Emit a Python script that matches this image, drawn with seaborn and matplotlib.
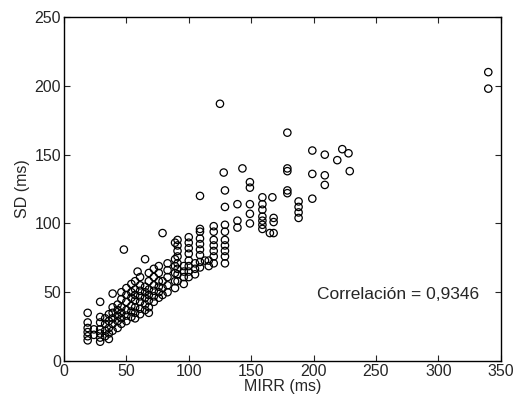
import matplotlib
matplotlib.use('Agg')
import matplotlib.pyplot as plt
import seaborn as sns
import pandas as pd
import numpy as np

sns.set_style("ticks")
plt.rcParams['font.family'] = ['Liberation Sans', 'DejaVu Sans']
plt.rcParams.update({'font.size': 11})

# MIRR (ms) columns and the SD (ms) values read at each one
mirr_cols = [19, 24, 29, 33, 36, 39, 43, 46, 48, 50, 54, 57, 59, 61, 65, 68, 72, 76, 79,
             83, 89, 91, 96, 100, 105, 109, 113, 116, 120, 125, 128, 129, 139, 143, 149,
             159, 165, 167, 168, 179, 188, 199, 209, 219, 223, 228, 229, 340]
sd_cols = [
    [15, 18, 21, 24, 28, 35],
    [19, 23],
    [14, 17, 20, 23, 28, 32, 43],
    [18, 22, 27, 31],
    [16, 20, 24, 29, 34],
    [22, 27, 31, 35, 39, 49],
    [24, 29, 33, 37, 41],
    [27, 31, 35, 39, 45, 50],
    [81],
    [29, 33, 37, 43, 48, 53],
    [32, 36, 40, 46, 50, 56],
    [31, 35, 39, 44, 48, 52, 58],
    [65],
    [34, 38, 43, 47, 51, 55, 61],
    [37, 41, 46, 50, 54, 74],
    [35, 39, 44, 48, 52, 58, 64],
    [43, 47, 51, 55, 61, 67],
    [46, 50, 54, 58, 64, 69],
    [48, 53, 58, 93],
    [50, 55, 61, 66, 71],
    [53, 58, 64, 69, 74, 86],
    [58, 63, 67, 71, 76, 80, 84, 88],
    [56, 61, 65, 69],
    [61, 65, 69, 73, 78, 82, 86, 90],
    [63, 67, 71],
    [68, 72, 77, 81, 85, 89, 94, 96, 120],
    [73],
    [69, 73],
    [71, 76, 80, 84, 88, 94, 98],
    [187],
    [137],
    [71, 76, 80, 84, 88, 94, 99, 112, 124],
    [97, 102, 114],
    [140],
    [100, 107, 114, 126, 130],
    [96, 99, 102, 105, 110, 114, 119],
    [93],
    [119],
    [93, 101, 104],
    [122, 124, 138, 140, 166],
    [104, 108, 112, 116],
    [118, 136, 153],
    [128, 135, 150],
    [146],
    [154],
    [151],
    [138],
    [198, 210],
]

mirr = []
sd = []
for m, vals in zip(mirr_cols, sd_cols):
    for v in vals:
        mirr.append(m)
        sd.append(v)
df = pd.DataFrame({'MIRR': mirr, 'SD': sd})

fig, ax = plt.subplots(figsize=(5.2, 3.98), dpi=100)
fig.subplots_adjust(left=0.123, right=0.963, top=0.957, bottom=0.093)
sns.scatterplot(data=df, x='MIRR', y='SD', ax=ax, marker='o', s=28,
                facecolors='none', edgecolor='black', linewidth=0.9)
ax.set_xlim(0, 350)
ax.set_ylim(0, 250)
ax.set_xticks(np.arange(0, 351, 50))
ax.set_yticks(np.arange(0, 251, 50))
ax.tick_params(direction='in', top=True, right=True, length=4, labelsize=11.5, pad=2)
for s in ax.spines.values():
    s.set_color('black')
    s.set_linewidth(1.0)
ax.set_xlabel('MIRR (ms)', labelpad=0, fontsize=11.5)
ax.set_ylabel('SD (ms)', labelpad=3, fontsize=11.5)
ax.text(203, 48, 'Correlación = 0,9346', fontsize=12.5, va='center', ha='left')

plt.savefig('out.png', dpi=100)
